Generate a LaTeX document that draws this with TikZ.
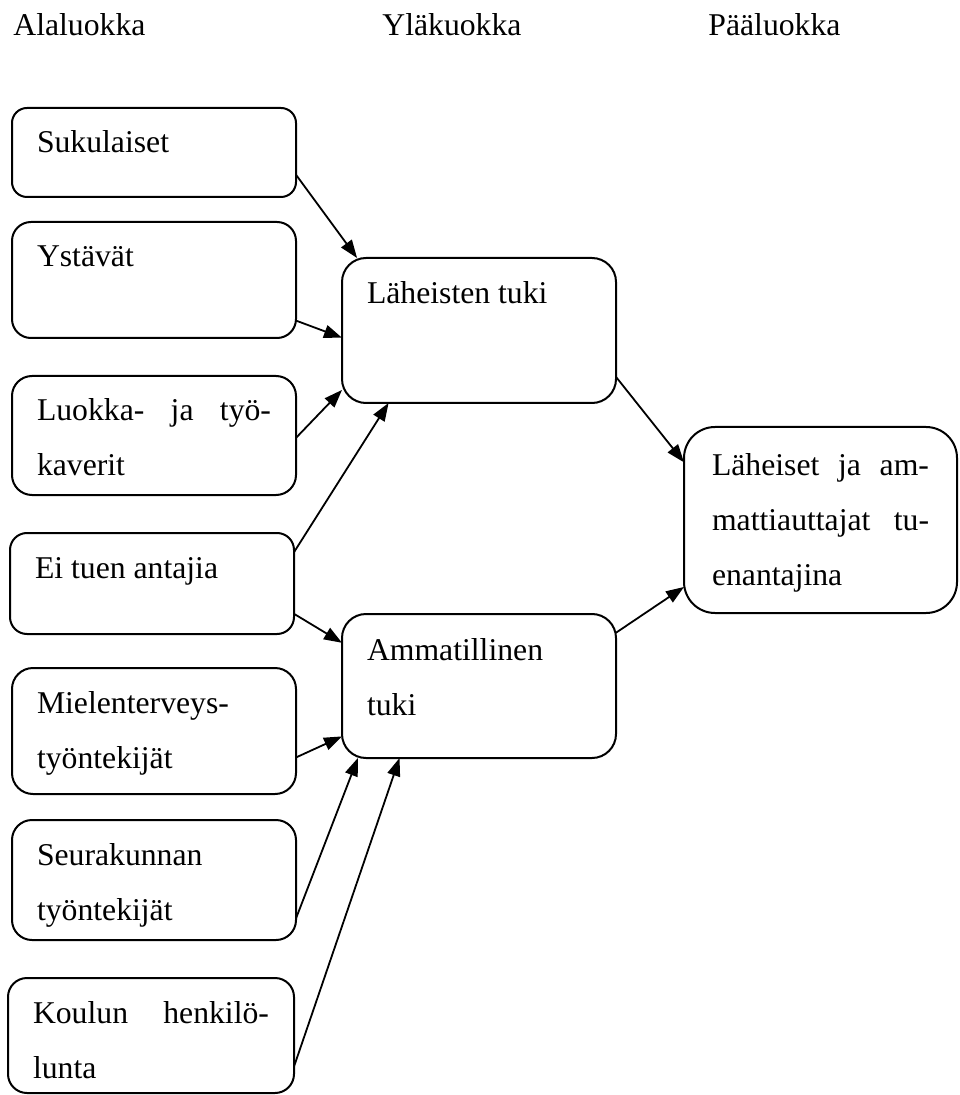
\documentclass[tikz,border=0pt]{standalone}
\usepackage{fontspec}
\setmainfont{Liberation Serif}
\usetikzlibrary{arrows.meta,calc}

\newcommand{\boxtext}[2]{\parbox[t]{#1}{#2}}

\begin{document}
\begin{tikzpicture}[x=0.5pt, y=-0.5pt,
        font=\fontsize{15.85pt}{27.5pt}\selectfont,
        >={Triangle[length=9pt,width=6.5pt]},
        box/.style={draw, line width=1pt, anchor=north west, outer sep=0pt,
            inner xsep=12.5pt, inner ysep=0pt, text height=22.5pt},
        head/.style={anchor=base west, inner sep=0pt}]
        \useasboundingbox (0, 0) rectangle (959, 1095);

        \node[head] at (13, 36)(alaluokka){Alaluokka};
        \node[head] at (382, 36)(ylaluokka){Yläkuokka};
        \node[head] at (708, 36)(paaluokka){Pääluokka};

        \node[box, text depth=22pt, rounded corners=7.5pt] at (12, 108)(suk){\boxtext{117pt}{Sukulaiset}};
        \node[box, text depth=35.5pt, rounded corners=9.5pt] at (12, 222)(yst){\boxtext{117pt}{Ystävät}};
        \node[box, text depth=37pt, rounded corners=10pt] at (12, 376)(luo){\boxtext{117pt}{Luokka-\hfill ja\hfill työ-\\kaverit}};
        \node[box, text depth=28pt, rounded corners=8.5pt] at (10, 533)(ei){\boxtext{117pt}{Ei tuen antajia}};
        \node[box, text depth=40.5pt, rounded corners=10.5pt] at (12, 668)(mie){\boxtext{117pt}{Mielenterveys-\\työntekijät}};
        \node[box, text depth=37.5pt, rounded corners=10pt] at (12, 820)(seu){\boxtext{117pt}{Seurakunnan\\työntekijät}};
        \node[box, text depth=35pt, rounded corners=9.5pt] at (8, 978)(kou){\boxtext{118pt}{Koulun\hfill henkilö-\\lunta}};

        \node[box, text height=23pt, text depth=49.5pt, rounded corners=12pt] at (342, 258)(lah){\boxtext{112pt}{Läheisten tuki}};
        \node[box, text height=23pt, text depth=49pt, rounded corners=12pt] at (342, 614)(amm){\boxtext{112pt}{Ammatillinen\\tuki}};

        \node[box, text height=24pt, text depth=69pt, rounded corners=15.5pt, inner xsep=14pt] at (684, 427)(paa){\boxtext{108.5pt}{Läheiset\hfill ja\hfill am-\\mattiauttajat\hfill tu-\\enantajina}};

        \path[->, line width=0.9pt]
            ($(suk.north east)!0.75!(suk.south east)$)edge($(lah.north west)!0.055!(lah.north east)$)
            ($(yst.north east)!0.85!(yst.south east)$)edge($(lah.north west)!0.55!(lah.south west)$)
            ($(luo.north east)!0.52!(luo.south east)$)edge($(lah.north west)!0.91!(lah.south west)$)
            ($(ei.north east)!0.19!(ei.south east)$)edge($(lah.south west)!0.17!(lah.south east)$)
            ($(ei.north east)!0.80!(ei.south east)$)edge($(amm.north west)!0.20!(amm.south west)$)
            ($(mie.north east)!0.71!(mie.south east)$)edge($(amm.north west)!0.85!(amm.south west)$)
            ($(seu.north east)!0.82!(seu.south east)$)edge($(amm.south west)!0.058!(amm.south east)$)
            ($(kou.north east)!0.77!(kou.south east)$)edge($(amm.south west)!0.21!(amm.south east)$)
            ($(lah.north east)!0.82!(lah.south east)$)edge($(paa.north west)!0.19!(paa.south west)$)
            ($(amm.north east)!0.13!(amm.south east)$)edge($(paa.north west)!0.86!(paa.south west)$)
            ;
    \end{tikzpicture}
\end{document}
